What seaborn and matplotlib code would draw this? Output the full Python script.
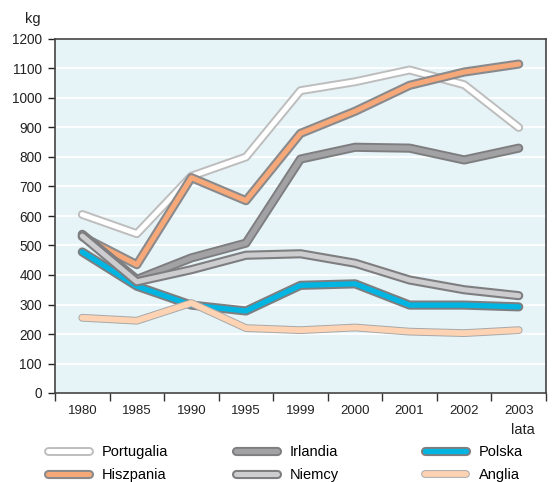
import matplotlib
matplotlib.use('Agg')
import matplotlib.pyplot as plt
import matplotlib.patheffects as pe
import seaborn as sns
import pandas as pd

years = ['1980', '1985', '1990', '1995', '1999', '2000', '2001', '2002', '2003']
portugalia = [605, 540, 735, 800, 1025, 1055, 1095, 1045, 900]
hiszpania = [530, 435, 730, 652, 880, 955, 1043, 1088, 1115]
irlandia = [538, 385, 458, 508, 793, 833, 830, 790, 830]
niemcy = [532, 377, 418, 467, 472, 440, 383, 350, 330]
polska = [478, 362, 298, 278, 365, 370, 298, 298, 292]
anglia = [255, 245, 305, 220, 213, 222, 208, 203, 213]

countries = ['Portugalia', 'Hiszpania', 'Irlandia', 'Niemcy', 'Polska', 'Anglia']
values = [portugalia, hiszpania, irlandia, niemcy, polska, anglia]

# inner colour, outline colour, inner width, outline width, zorder
styles = {
    'Portugalia': ('#ffffff', '#bdbdbd', 3.6, 6.4, 2),
    'Hiszpania': ('#f7a878', '#8a8a8c', 3.6, 6.6, 3),
    'Irlandia': ('#a2a2a4', '#7e7e80', 3.8, 6.6, 4),
    'Polska': ('#00b5e2', '#7e7e80', 3.8, 6.6, 5),
    'Niemcy': ('#cdcdcf', '#7e7e80', 3.6, 6.6, 6),
    'Anglia': ('#fdd3b3', '#a8a8a8', 4.2, 5.6, 7),
}

df = pd.DataFrame({
    'rok': years * len(countries),
    'kraj': [c for c in countries for _ in years],
    'kg': [v for vals in values for v in vals],
})

plt.rcParams['font.family'] = ['Liberation Sans', 'DejaVu Sans']
fig = plt.figure(figsize=(5.54, 4.82), dpi=100)
ax = fig.add_axes([55 / 554, 1 - 393 / 482, 491 / 554, 354 / 482])
ax.set_facecolor('#e6f3f7')

handles = {}
for c in countries:
    inner, edge, w_in, w_out, z = styles[c]
    sub = df[df['kraj'] == c]
    sns.lineplot(data=sub, x='rok', y='kg', ax=ax, color=inner, linewidth=w_in,
                 sort=False, legend=False)
    line = ax.lines[-1]
    line.set_zorder(z)
    line.set_solid_capstyle('round')
    line.set_solid_joinstyle('round')
    line.set_path_effects([pe.Stroke(linewidth=w_out, foreground=edge,
                                     capstyle='round', joinstyle='round'),
                           pe.Normal()])
    line.set_label(c)
    handles[c] = line

ax.set_xlim(-0.5, len(years) - 0.5)
ax.set_ylim(0, 1200)
ax.set_yticks(range(0, 1201, 100))
ax.set_xticks(range(len(years)))
ax.set_xticklabels(years)
ax.set_xticks([i - 0.5 for i in range(len(years) + 1)], minor=True)
ax.tick_params(axis='x', which='major', length=0, pad=9, labelsize=9.5, colors='#222222')
ax.tick_params(axis='x', which='minor', length=6, width=1, direction='out', color='#333333')
ax.tick_params(axis='y', length=5, width=1, direction='out', labelsize=9.8,
               colors='#222222', pad=4.5)
ax.grid(axis='y', color='white', linewidth=1.3)
ax.set_axisbelow(True)
for s in ax.spines.values():
    s.set_color('#444444')
    s.set_linewidth(1.2)
ax.set_xlabel('')
ax.set_ylabel('')

fig.text(33 / 554, 1 - 19 / 482, 'kg', ha='center', va='center', fontsize=10.5, color='#222222')
fig.text(523 / 554, 1 - 430 / 482, 'lata', ha='center', va='center', fontsize=10.5,
         color='#222222')

cols = [['Portugalia', 'Hiszpania'], ['Irlandia', 'Niemcy'], ['Polska', 'Anglia']]
xs = [48, 236, 425]
for names, x in zip(cols, xs):
    fig.legend([handles[n] for n in names], names, loc='upper left',
               bbox_to_anchor=(x / 554, 1 - 445 / 482), frameon=False,
               handlelength=2.8, handletextpad=0.9, labelspacing=0.65,
               borderpad=0, borderaxespad=0,
               prop={'size': 10.5})

fig.savefig('out.png', dpi=100)
